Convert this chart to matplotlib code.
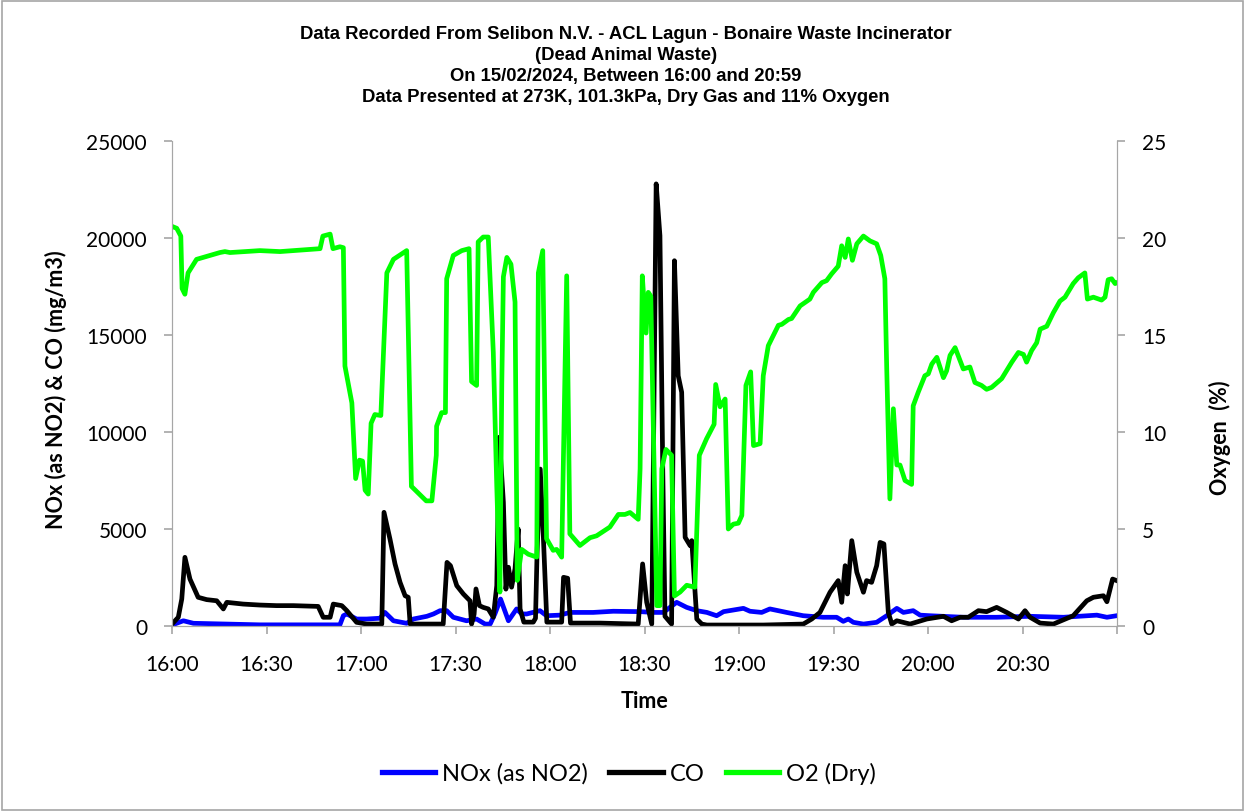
import matplotlib
matplotlib.use("Agg")
import matplotlib.pyplot as plt
from matplotlib.patches import Rectangle

# ---- data (minutes after 16:00) ----
o2_t = [0.0, 1.5, 2.8, 3.2, 4.1, 5.1, 7.8, 15.2, 16.8, 18.4, 27.9, 34.3, 47.0, 47.9, 50.2, 51.1, 53.3, 54.4,
        54.9, 57.1, 58.3, 59.5, 60.5, 61.3, 62.3, 63.2, 64.4, 66.3, 68.2, 70.3, 74.5, 76.0, 80.7, 82.5,
        83.9, 84.0, 85.6, 86.8, 87.2, 89.3, 92.0, 94.3, 95.1, 96.7, 97.2, 98.8, 100.4, 102.0, 103.1, 104.1,
        104.7, 105.2, 106.3, 107.6, 108.9, 109.6, 111.0, 113.1, 115.8, 116.3, 117.7, 118.9, 121.0, 122.1,
        123.7, 125.3, 126.3, 129.5, 132.7, 134.8, 139.0, 141.7, 143.8, 145.4, 148.0, 148.6, 149.3, 150.5,
        151.2, 152.0, 153.9, 154.9, 155.5, 156.8, 158.6, 159.5, 161.3, 163.4, 166.0, 167.4, 169.7, 172.1,
        172.6, 174.0, 175.6, 176.6, 178.2, 179.8, 180.9, 182.2, 183.7, 184.6, 186.7, 187.7, 189.3, 192.5,
        193.6, 195.7, 196.7, 199.4, 202.5, 203.6, 206.3, 207.8, 209.4, 211.5, 212.6, 213.7, 214.7, 216.0,
        217.4, 219.5, 221.6, 223.7, 225.0, 226.3, 226.9, 227.9, 229.0, 230.1, 231.1, 232.7, 234.8, 235.3,
        236.9, 239.0, 240.1, 241.2, 242.8, 244.9, 245.9, 247.0, 248.6, 251.2, 253.3, 254.9, 257.0, 258.6,
        260.2, 263.4, 266.6, 268.7, 270.3, 271.3, 272.9, 274.5, 275.6, 277.7, 279.8, 281.9, 283.5, 286.1,
        287.7, 289.8, 290.6, 292.5, 295.1, 296.2, 297.2, 298.3, 299.4, 300.0]
o2_v = [20.6, 20.5, 20.1, 17.4, 17.1, 18.2, 18.9, 19.25, 19.3, 19.25, 19.35, 19.3, 19.45, 20.1, 20.2, 19.45, 19.55, 19.5,
        13.4, 11.5, 7.6, 8.55, 8.5, 7.0, 6.8, 10.45, 10.9, 10.85, 18.2, 18.9, 19.35, 7.2, 6.45, 6.45,
        8.8, 10.3, 11.0, 11.0, 17.9, 19.1, 19.35, 19.45, 12.6, 12.4, 19.8, 20.05, 20.05, 14.1, 7.2, 1.75,
        12.5, 18.0, 19.0, 18.65, 16.7, 2.35, 3.95, 3.7, 3.55, 18.2, 19.35, 4.5, 3.9, 3.95,
        3.55, 18.05, 4.75, 4.15, 4.55, 4.65, 5.1, 5.75, 5.75, 5.85, 5.5, 8.1, 18.05, 15.1,
        17.2, 17.0, 1.05, 1.05, 8.1, 9.1, 8.8, 1.55, 1.75, 2.1, 2.0, 8.8, 9.65, 10.4,
        12.45, 11.3, 11.7, 5.0, 5.25, 5.3, 5.7, 12.4, 13.1, 9.3, 9.4, 12.9, 14.45, 15.5,
        15.55, 15.8, 15.85, 16.5, 16.85, 17.2, 17.7, 17.8, 18.15, 18.55, 19.6, 19.0, 19.95, 18.85,
        19.7, 20.1, 19.85, 19.7, 19.1, 17.9, 13.25, 6.55, 11.2, 8.3, 8.3, 7.5, 7.3, 11.35,
        12.05, 12.9, 13.0, 13.5, 13.85, 12.8, 13.15, 13.95, 14.35, 13.25, 13.35, 12.55, 12.4, 12.2,
        12.3, 12.75, 13.6, 14.1, 14.0, 13.6, 14.2, 14.6, 15.3, 15.45, 16.15, 16.75, 16.95, 17.65,
        17.95, 18.2, 16.85, 16.95, 16.8, 16.95, 17.85, 17.9, 17.65, 17.7]

co_t = [0.0, 2.0, 3.1, 4.1, 5.7, 8.3, 11.0, 14.2, 16.3, 17.4, 22.6, 27.9, 33.2, 38.5, 46.4, 48.0, 50.2, 51.2,
        53.9, 55.5, 58.6, 61.8, 66.6, 67.3, 69.2, 70.8, 72.4, 74.0, 75.0, 75.6, 86.1, 87.3, 88.4, 90.4,
        92.5, 94.6, 95.1, 95.9, 96.5, 97.6, 98.8, 100.4, 102.0, 103.1, 103.9, 105.2, 106.0, 106.8, 107.8,
        108.9, 109.9, 110.5, 111.7, 114.7, 115.4, 115.9, 116.9, 117.9, 119.0, 123.7, 124.3, 125.6, 126.5,
        135.9, 148.0, 149.4, 150.7, 152.3, 153.7, 154.9, 155.8, 156.5, 158.6, 159.5, 160.7, 161.8, 162.9,
        164.5, 165.0, 166.6, 168.2, 169.8, 177.1, 187.7, 200.4, 203.1, 205.7, 208.9, 211.5, 212.6, 213.7,
        214.4, 215.8, 217.4, 219.5, 220.5, 222.1, 223.7, 224.8, 226.0, 227.4, 228.5, 230.1, 234.3, 239.6,
        244.9, 247.5, 250.2, 252.8, 256.0, 258.6, 261.8, 265.0, 268.7, 270.8, 272.4, 275.6, 279.8, 286.1,
        290.4, 292.5, 295.7, 296.8, 298.6, 299.9]
co_v = [100, 450, 1390, 3540, 2420, 1480, 1360, 1300, 880, 1220, 1130, 1080, 1050, 1050, 1010, 450, 450, 1130,
        1050, 790, 190, 100, 100, 5860, 4480, 3200, 2250, 1560, 1480, 100, 100, 3280, 3110, 2080,
        1650, 1300, 100, 600, 1910, 1050, 960, 880, 450, 2080, 9730, 6380, 1900, 3030, 2000,
        2950, 5000, 880, 200, 200, 400, 3800, 8090, 4570, 200, 200, 2510, 2460, 150,
        150, 100, 3200, 1220, 100, 22790, 20120, 8000, 500, 100, 18830, 12900, 12050, 4570,
        4140, 4400, 360, 100, 50, 50, 50, 100, 360, 700, 1740, 2340, 1220, 3110,
        1650, 4400, 2770, 1740, 2340, 2250, 3110, 4310, 4230, 700, 100, 270, 100, 360,
        500, 270, 450, 450, 790, 740, 960, 700, 360, 790, 450, 150, 100, 530,
        1300, 1480, 1560, 1250, 2420, 2340]

nox_t = [0.0, 3.6, 6.8, 17.4, 27.9, 43.8, 53.3, 54.4, 55.5, 58.6, 61.8, 66.0, 67.6, 70.3, 74.5, 76.6, 80.9,
         83.0, 85.1, 87.2, 89.3, 93.5, 96.7, 99.4, 101.0, 102.5, 104.3, 106.8, 109.4, 111.0, 112.6, 116.8,
         118.9, 123.2, 126.3, 133.7, 140.1, 148.6, 152.8, 156.0, 160.2, 163.4, 166.6, 169.8, 172.9, 175.1,
         181.4, 183.5, 187.2, 189.8, 195.1, 200.4, 206.7, 211.0, 213.1, 214.7, 216.3, 219.5, 223.7, 226.9,
         230.1, 232.2, 235.3, 237.5, 240.6, 251.2, 261.8, 272.4, 283.0, 293.6, 296.8, 299.9]
nox_v = [50, 270, 140, 100, 60, 60, 60, 530, 620, 360, 360, 400, 700, 270, 140, 360, 500,
         620, 790, 790, 450, 270, 360, 100, 100, 620, 1390, 270, 880, 620, 620, 790,
         530, 560, 700, 700, 760, 740, 700, 700, 1220, 960, 790, 700, 530, 740,
         910, 760, 700, 880, 700, 530, 450, 450, 240, 360, 190, 100, 190, 530,
         910, 700, 790, 560, 530, 450, 450, 500, 450, 560, 450, 530]

x_ticks = [0, 30, 60, 90, 120, 150, 180, 210, 240, 270, 300]
x_labels = ["16:00", "16:30", "17:00", "17:30", "18:00", "18:30", "19:00", "19:30", "20:00", "20:30", ""]

title = ("Data Recorded From Selibon N.V. - ACL Lagun - Bonaire Waste Incinerator\n"
         "(Dead Animal Waste)\n"
         "On 15/02/2024, Between 16:00 and 20:59\n"
         "Data Presented at 273K, 101.3kPa, Dry Gas and 11% Oxygen")

# ---- figure ----
W, H = 1244, 812
fig = plt.figure(figsize=(W / 100, H / 100), dpi=100)
fig.patch.set_facecolor("white")
fig.add_artist(Rectangle((1.5 / W, 1.5 / H), 1 - 3 / W, 1 - 3 / H, transform=fig.transFigure,
                         fill=False, edgecolor="#a6a6a6", linewidth=1.2))

ax = fig.add_axes([172 / W, 1 - 627 / H, (1117 - 172) / W, (627 - 142) / H])
ax2 = ax.twinx()

lw = 3.4
ax.plot(nox_t, nox_v, color="#0000ff", lw=lw, solid_joinstyle="round", label="NOx (as NO2)")
ax.plot(co_t, co_v, color="black", lw=lw, solid_joinstyle="round", label="CO")
ax2.plot(o2_t, o2_v, color="#00ff00", lw=lw, solid_joinstyle="round", label="O2 (Dry)")

ax.set_xlim(0, 300)
ax.set_ylim(0, 25000)
ax2.set_ylim(0, 25)
ax.set_yticks([0, 5000, 10000, 15000, 20000, 25000])
ax2.set_yticks([0, 5, 10, 15, 20, 25])
ax.set_xticks(x_ticks)
ax.set_xticklabels(x_labels)

tick_font = "Lato"
grey = "#a6a6a6"
for a in (ax, ax2):
    for s in a.spines.values():
        s.set_color(grey)
    a.spines["top"].set_visible(False)
ax.tick_params(axis="both", colors=grey, labelcolor="black", length=6, width=1.2, direction="out",
               labelsize=15)
ax.tick_params(axis="y", pad=12)
ax.tick_params(axis="x", pad=14)
ax2.tick_params(axis="y", colors=grey, labelcolor="black", length=6, width=1.2, direction="out",
                labelsize=15, pad=12)
for lab in ax.get_xticklabels() + ax.get_yticklabels() + ax2.get_yticklabels():
    lab.set_fontfamily(tick_font)

ax.set_ylabel("NOx (as NO2) & CO (mg/m3)", fontfamily=tick_font, fontweight="bold", fontsize=15.5)
ax.yaxis.set_label_coords((67 - 172) / 945, 0.49)
ax2.set_ylabel("Oxygen  (%)", fontfamily=tick_font, fontweight="bold", fontsize=15.5)
ax2.yaxis.set_label_coords((1209 - 172) / 945, 0.39)
ax.set_xlabel("Time", fontfamily=tick_font, fontweight="bold", fontsize=15.5, labelpad=12)

fig.text(626 / W, 1 - 66 / H, title, ha="center", va="center", fontfamily="Liberation Sans",
         fontweight="bold", fontsize=13.3, linespacing=1.32)

handles = ax.get_lines() + ax2.get_lines()
leg = fig.legend(handles, [h.get_label() for h in handles], loc="center",
                 bbox_to_anchor=(629 / W, 1 - 774 / H), ncol=3, frameon=False,
                 prop={"family": tick_font, "size": 17}, handlelength=2.25, handletextpad=0.3,
                 columnspacing=0.9)
for l in leg.get_lines():
    l.set_linewidth(3.8)

fig.savefig("out.png", dpi=100)
